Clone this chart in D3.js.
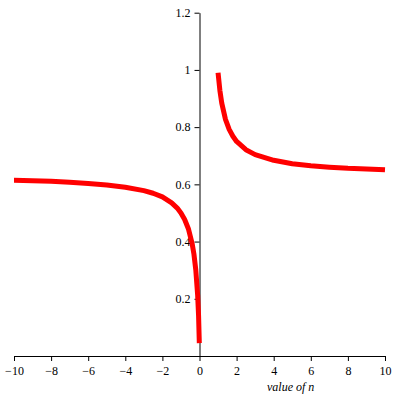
<!DOCTYPE html>
<html>
<head>
<meta charset="utf-8">
<script src="https://cdn.jsdelivr.net/npm/d3@7"></script>
<style>
  body { margin: 0; background: #fff; }
</style>
</head>
<body>
<div id="vis"></div>
<script>
// values, two branches either side of n = 0
const leftN = [-10, -9, -8, -7, -6, -5, -4, -3, -2.5, -2, -1.5, -1.2, -1, -0.8, -0.6, -0.4, -0.3, -0.2, -0.1, -0.05, -0.01];
const leftV = [0.614, 0.613, 0.611, 0.607, 0.603, 0.598, 0.590, 0.578, 0.569, 0.556, 0.535, 0.517, 0.5, 0.477, 0.445, 0.394, 0.356, 0.301, 0.213, 0.141, 0.045];
const rightN = [1, 1.1, 1.2, 1.4, 1.6, 1.8, 2, 2.5, 3, 4, 5, 6, 7, 8, 9, 10];
const rightV = [0.99, 0.928, 0.884, 0.827, 0.792, 0.768, 0.75, 0.721, 0.704, 0.684, 0.672, 0.665, 0.66, 0.656, 0.654, 0.651];
const xTicks = [-10, -8, -6, -4, -2, 0, 2, 4, 6, 8, 10];
const yTicks = [0.2, 0.4, 0.6, 0.8, 1, 1.2];
const xTitle = "value of n";

const width = 400, height = 404;
const margin = { top: 12.7, right: 15, bottom: 48, left: 14 };
const serif = "'Liberation Serif', 'Times New Roman', Times, serif";

const svg = d3.select("#vis").append("svg")
  .attr("width", width)
  .attr("height", height)
  .attr("font-family", serif);

const x = d3.scaleLinear()
  .domain([-10, 10])
  .range([margin.left, width - margin.right]);

const y = d3.scaleLinear()
  .domain([0, 1.2])
  .range([height - margin.bottom, margin.top]);

// x axis sits at y = 0
const xAxis = svg.append("g")
  .attr("transform", `translate(0,${y(0)})`)
  .call(d3.axisBottom(x).tickValues(xTicks).tickSize(5).tickSizeOuter(0).tickPadding(5));

// y axis sits at n = 0
const yAxis = svg.append("g")
  .attr("transform", `translate(${x(0)},0)`)
  .call(d3.axisLeft(y).tickValues(yTicks).tickFormat(d => String(d)).tickSize(5).tickSizeOuter(0).tickPadding(4));

[xAxis, yAxis].forEach(g => {
  g.attr("font-size", 12).attr("font-family", serif);
  g.selectAll("path, line").attr("stroke", "#000").attr("stroke-width", 1);
  g.selectAll("text").attr("fill", "#000");
});

svg.append("text")
  .attr("x", 267)
  .attr("y", 391)
  .attr("font-size", 12)
  .attr("font-style", "italic")
  .attr("font-family", serif)
  .text(xTitle);

const line = d3.line()
  .x(d => x(d[0]))
  .y(d => y(d[1]));

[[leftN, leftV], [rightN, rightV]].forEach(([ns, vs]) => {
  svg.append("path")
    .datum(ns.map((n, i) => [n, vs[i]]))
    .attr("fill", "none")
    .attr("stroke", "#ff0000")
    .attr("stroke-width", 5)
    .attr("stroke-linejoin", "round")
    .attr("d", line);
});
</script>
</body>
</html>
